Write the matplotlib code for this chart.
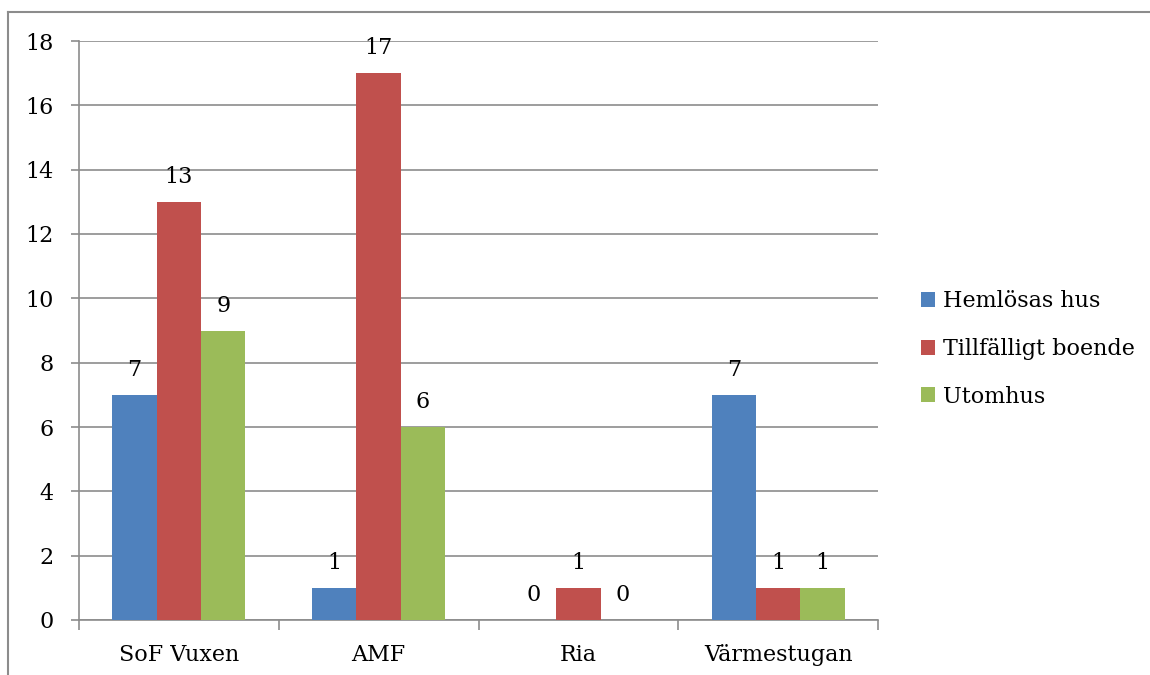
import matplotlib
matplotlib.use("Agg")
import matplotlib.pyplot as plt
import numpy as np
from matplotlib.patches import Patch
from matplotlib.lines import Line2D

categories = ["SoF Vuxen", "AMF", "Ria", "Värmestugan"]
series_names = ["Hemlösas hus", "Tillfälligt boende", "Utomhus"]
hemlosas_hus = [7, 1, 0, 7]
tillfalligt_boende = [13, 17, 1, 1]
utomhus = [9, 6, 0, 1]
yticks = [0, 2, 4, 6, 8, 10, 12, 14, 16, 18]

colors = ["#4F81BD", "#C0504D", "#9BBB59"]
series = [hemlosas_hus, tillfalligt_boende, utomhus]

plt.rcParams['font.family'] = ['DejaVu Serif']
FS = 16

fig = plt.figure(figsize=(11.5, 6.75), dpi=100)
ax = fig.add_axes([79/1150, 1-620/675, (878-79)/1150, (620-41)/675])

x = np.arange(len(categories))
bw = 1/4.5
for i, (vals, c) in enumerate(zip(series, colors)):
    pos = x + (i-1)*bw
    ax.bar(pos, vals, width=bw, color=c, edgecolor='none', zorder=3)
    for p, v in zip(pos, vals):
        ax.annotate(str(v), (p, v), xytext=(0, 10), textcoords='offset points',
                    ha='center', va='bottom', fontsize=FS, color='black', zorder=4)

ax.set_xlim(-0.5, len(categories)-0.5)
ax.set_ylim(0, 18)
ax.set_yticks(yticks)
ax.set_yticklabels([str(t) for t in yticks], fontsize=FS)
ax.yaxis.grid(True, color='#8c8c8c', linewidth=1.2, zorder=0)
ax.set_axisbelow(True)
ax.tick_params(axis='y', length=6, width=1.2, color='#8c8c8c', pad=12)

ax.set_xticks(np.arange(-0.5, len(categories)), minor=False)
ax.set_xticklabels([])
ax.set_xticks(x, minor=True)
ax.set_xticklabels(categories, minor=True, fontsize=FS)
ax.tick_params(axis='x', which='major', length=7, width=1.2, color='#8c8c8c')
ax.tick_params(axis='x', which='minor', length=0, pad=17)

for s in ['top', 'right']:
    ax.spines[s].set_visible(False)
for s in ['left', 'bottom']:
    ax.spines[s].set_color('#8c8c8c')
    ax.spines[s].set_linewidth(1.2)

handles = [Patch(facecolor=c, edgecolor='none') for c in colors]
leg = fig.legend(handles, series_names, loc='center left',
                 bbox_to_anchor=(901/1150, 1-349/675), frameon=False,
                 fontsize=FS, handlelength=0.65, handleheight=0.65,
                 handletextpad=0.35, labelspacing=1.15)

# outer chart border (left and top)
fig.add_artist(Line2D([8/1150, 8/1150], [0, 1-12/675], color='#8c8c8c', lw=1.5, transform=fig.transFigure))
fig.add_artist(Line2D([8/1150, 1], [1-12/675, 1-12/675], color='#8c8c8c', lw=1.5, transform=fig.transFigure))

fig.savefig("out.png", dpi=100)
